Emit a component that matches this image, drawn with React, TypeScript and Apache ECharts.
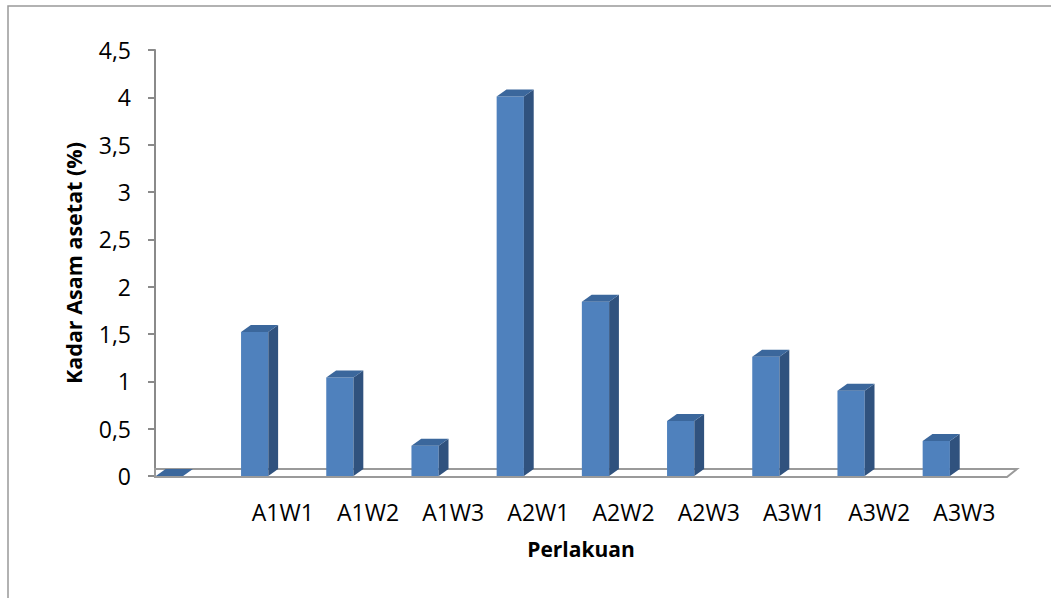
import React, { useEffect, useRef } from "react";
import * as echarts from "echarts";

const categories = ["", "A1W1", "A1W2", "A1W3", "A2W1", "A2W2", "A2W3", "A3W1", "A3W2", "A3W3"];
const values = [0, 1.52, 1.04, 0.32, 4.01, 1.84, 0.58, 1.26, 0.9, 0.37];
const yTicks = { min: 0, max: 4.5, interval: 0.5 };
const yName = "Kadar Asam asetat (%)";
const xName = "Perlakuan";

const FONT = "'Open Sans', 'Noto Sans', sans-serif";

export default function App() {
  const ref = useRef<HTMLDivElement>(null);
  useEffect(() => {
    if (!ref.current) return;
    const chart = echarts.init(ref.current, null, { renderer: "svg" });
    const option: any = {
      animation: false,
      backgroundColor: "#ffffff",
      graphic: [
        {
          type: "rect",
          shape: { x: 8, y: 6, width: 1200, height: 700 },
          style: { fill: "none", stroke: "#999999", lineWidth: 1.5 },
          silent: true,
          z: -10,
        },
      ],
      grid: { left: 155, right: 44, top: 50, bottom: 122, containLabel: false },
      xAxis: {
        type: "category",
        data: categories,
        boundaryGap: true,
        axisLine: { show: false },
        axisTick: { show: false },
        splitLine: { show: false },
        axisLabel: { color: "#000", fontFamily: FONT, fontSize: 23, margin: 24, interval: 0 },
        name: xName,
        nameLocation: "middle",
        nameGap: 62,
        nameTextStyle: { color: "#000", fontFamily: FONT, fontSize: 21, fontWeight: "bold" },
      },
      yAxis: {
        type: "value",
        min: yTicks.min,
        max: yTicks.max,
        interval: yTicks.interval,
        axisLine: { show: true, lineStyle: { color: "#8a8a8a", width: 2 } },
        axisTick: { show: true, length: 7, lineStyle: { color: "#8a8a8a", width: 2 } },
        splitLine: { show: false },
        axisLabel: {
          color: "#000",
          fontFamily: FONT,
          fontSize: 23,
          margin: 24,
          formatter: (v: number) => String(v).replace(".", ","),
        },
        name: yName,
        nameLocation: "middle",
        nameRotate: 90,
        nameGap: 71,
        nameTextStyle: { color: "#000", fontFamily: FONT, fontSize: 21.5, fontWeight: "bold" },
      },
      series: [
        {
          type: "custom",
          data: values.map((v, i) => [i, v]),
          encode: { x: 0, y: 1 },
          renderItem: (params: any, api: any) => {
            const i = api.value(0);
            const v = api.value(1);
            const base = api.coord([i, 0]);
            const top = api.coord([i, v]);
            const band = api.size([1, 0])[0];
            const W = band * 0.32;
            const L = base[0] - band * 0.49;
            const dx = band * 0.115;
            const dy = -7;
            const y0 = base[1];
            const yT = top[1];
            const children: any[] = [];
            if (params.dataIndex === 0) {
              const left = base[0] - band / 2;
              const right = left + band * categories.length;
              children.push({
                type: "polygon",
                shape: { points: [[left, y0 + 1], [right, y0 + 1], [right + 10, y0 - 7], [left, y0 - 7]] },
                style: { fill: "#ffffff", stroke: "#9a9a9a", lineWidth: 2 },
              });
            }
            if (yT < y0 - 0.5) {
              children.push({
                type: "rect",
                shape: { x: L, y: yT, width: W, height: y0 - yT },
                style: { fill: "#4F81BD" },
              });
              children.push({
                type: "polygon",
                shape: { points: [[L + W, yT], [L + W + dx, yT + dy], [L + W + dx, y0 + dy], [L + W, y0]] },
                style: { fill: "#30527E" },
              });
            }
            children.push({
              type: "polygon",
              shape: { points: [[L, yT], [L + dx, yT + dy], [L + W + dx, yT + dy], [L + W, yT]] },
              style: { fill: "#3B679C" },
            });
            return { type: "group", children };
          },
        },
      ],
    };
    chart.setOption(option);
    return () => chart.dispose();
  }, []);
  return (
    <div
      ref={ref}
      style={{ position: "absolute", left: 0, top: 0, width: 1051, height: 598, background: "#fff" }}
    />
  );
}
